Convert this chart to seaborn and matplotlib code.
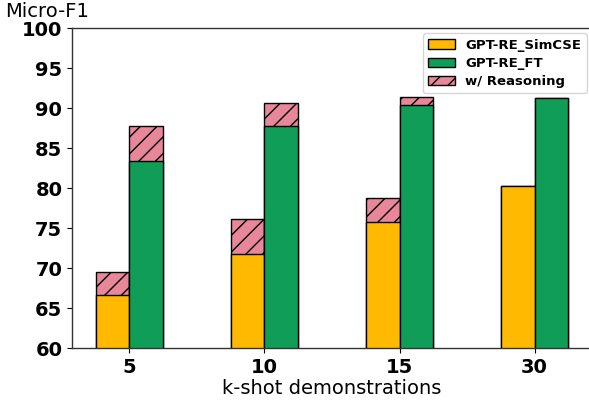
import matplotlib
matplotlib.use("Agg")
import matplotlib.pyplot as plt
from matplotlib.patches import Patch
import seaborn as sns
import pandas as pd

shots = ["5", "10", "15", "30"]
simcse = [66.6, 71.8, 75.8, 80.25]
simcse_reason = [69.5, 76.1, 78.8, 80.25]
ft = [83.4, 87.75, 90.4, 91.2]
ft_reason = [87.8, 90.65, 91.4, 91.2]
methods = ["GPT-RE_SimCSE", "GPT-RE_FT"]

c_simcse = "#FFB900"
c_ft = "#0F9D58"
c_reason = "#E8879A"

base = pd.DataFrame({
    "shot": shots * 2,
    "method": [methods[0]] * 4 + [methods[1]] * 4,
    "value": simcse + ft,
})
total = pd.DataFrame({
    "shot": shots * 2,
    "method": [methods[0]] * 4 + [methods[1]] * 4,
    "value": simcse_reason + ft_reason,
})

plt.rcParams["hatch.linewidth"] = 1.0
fig = plt.figure(figsize=(5.89, 4.0), dpi=100)
ax = fig.add_axes([72 / 589, 52 / 400, 520 / 589, 320 / 400])

sns.barplot(data=total, x="shot", y="value", hue="method", order=shots,
            hue_order=methods, palette=[c_reason, c_reason], width=0.5,
            saturation=1, edgecolor="black", linewidth=1, legend=False,
            ax=ax, zorder=1)
for p in list(ax.patches):
    p.set_hatch("//")
sns.barplot(data=base, x="shot", y="value", hue="method", order=shots,
            hue_order=methods, palette=[c_simcse, c_ft], width=0.5,
            saturation=1, edgecolor="black", linewidth=1, legend=False,
            ax=ax, zorder=2)

ax.set_ylim(60, 100)
ax.set_yticks(range(60, 101, 5))
ax.set_xlim(-0.425, 3.425)
ax.set_xlabel("k-shot demonstrations", fontsize=14, labelpad=2)
ax.set_ylabel("")
for lab in ax.get_xticklabels() + ax.get_yticklabels():
    lab.set_fontweight("bold")
    lab.set_fontsize(14)
for s in ax.spines.values():
    s.set_linewidth(1.0)
    s.set_color("#333333")

handles = [
    Patch(facecolor=c_simcse, edgecolor="black", label="GPT-RE_SimCSE"),
    Patch(facecolor=c_ft, edgecolor="black", label="GPT-RE_FT"),
    Patch(facecolor=c_reason, edgecolor="black", hatch="//", label="w/ Reasoning"),
]
ax.legend(handles=handles, loc="upper right", prop={"weight": "bold", "size": 9.5},
          borderaxespad=0.4, labelspacing=0.4)

fig.text(5 / 589, 1 - 2 / 400, "Micro-F1", fontsize=14, va="top", ha="left")

fig.savefig("out.png", dpi=100)
